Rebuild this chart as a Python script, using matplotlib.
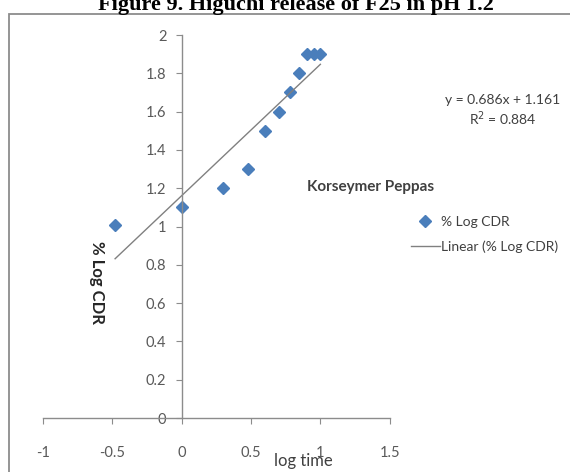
import numpy as np
import matplotlib.pyplot as plt
from matplotlib.patches import Rectangle

# --- DATA ---
log_time = [-0.48, 0.0, 0.301, 0.477, 0.602, 0.699, 0.778, 0.845, 0.903, 0.954, 1.0]
log_cdr = [1.01, 1.10, 1.20, 1.30, 1.50, 1.60, 1.70, 1.80, 1.90, 1.90, 1.90]
slope = 0.686
intercept = 1.161
r_squared = 0.884
x_ticks = [-1, -0.5, 0, 0.5, 1, 1.5]
y_ticks = [0, 0.2, 0.4, 0.6, 0.8, 1, 1.2, 1.4, 1.6, 1.8, 2]

plt.rcParams['font.family'] = ['Lato', 'DejaVu Sans']

fig = plt.figure(figsize=(5.7, 4.72), dpi=100)
ax = fig.add_axes([0.0754, 0.1144, 0.6083, 0.8114])

# chart border (Excel-like box, clipped on right/bottom)
fig.patches.append(Rectangle((9 / 570, -0.05), 1.2, 1.05 - 14 / 472,
                             transform=fig.transFigure, fill=False,
                             edgecolor='#8c8c8c', linewidth=1.3))

# title, cut at the top of the image
fig.text(296 / 570, 1 - 10 / 472, 'Figure 9. Higuchi release of F25 in pH 1.2',
         family=['Liberation Serif'], fontweight='bold', fontsize=16,
         ha='center', va='baseline')

# scatter + trendline
ax.plot(log_time, log_cdr, linestyle='none', marker='D', markersize=5.8,
        color='#4a7ebb', label='% Log CDR')
xs = np.array([min(log_time), max(log_time)])
ax.plot(xs, slope * xs + intercept, color='#808080', linewidth=1.0,
        label='Linear (% Log CDR)')

ax.set_xlim(-1, 1.5)
ax.set_ylim(0, 2)
ax.set_xticks(x_ticks)
ax.set_xticklabels([f'{t:g}' for t in x_ticks])
ax.set_yticks(y_ticks)
ax.set_yticklabels([f'{t:g}' for t in y_ticks])

for s in ['top', 'right']:
    ax.spines[s].set_visible(False)
ax.spines['left'].set_position(('data', 0))
ax.spines['bottom'].set_position(('data', 0))
for s in ['left', 'bottom']:
    ax.spines[s].set_color('#8c8c8c')
    ax.spines[s].set_linewidth(1.0)
ax.patch.set_visible(False)

ax.tick_params(axis='y', direction='out', length=4, color='#8c8c8c',
               labelsize=10.5, labelcolor='#595959', pad=7)
ax.tick_params(axis='x', direction='out', length=4, color='#8c8c8c',
               labelsize=10.5, labelcolor='#595959', pad=16)

# axis titles
fig.text(97 / 570, 1 - 282 / 472, '% Log CDR', rotation=270, fontweight='bold',
         fontsize=12, color='#262626', ha='center', va='center')
fig.text(303 / 570, 1 - 461 / 472, 'log time', fontsize=12, color='#404040',
         ha='center', va='center')

# equation and chart label
fig.text(503 / 570, 1 - 100 / 472, f'y = {slope}x + {intercept}', fontsize=10,
         color='#404040', ha='center', va='center')
fig.text(503 / 570, 1 - 119 / 472, f'R$^2$ = {r_squared}', fontsize=10,
         color='#404040', ha='center', va='center')
fig.text(307 / 570, 1 - 187 / 472, 'Korseymer Peppas', fontsize=11,
         fontweight='bold', color='#404040', ha='left', va='center')

# legend
leg = fig.legend(loc='upper left', bbox_to_anchor=(405 / 570, 1 - 210 / 472),
                 frameon=False, fontsize=10, handlelength=2.1, handletextpad=0.1,
                 labelspacing=0.9, borderaxespad=0)
for t in leg.get_texts():
    t.set_color('#404040')

fig.savefig('out.png', dpi=100)
